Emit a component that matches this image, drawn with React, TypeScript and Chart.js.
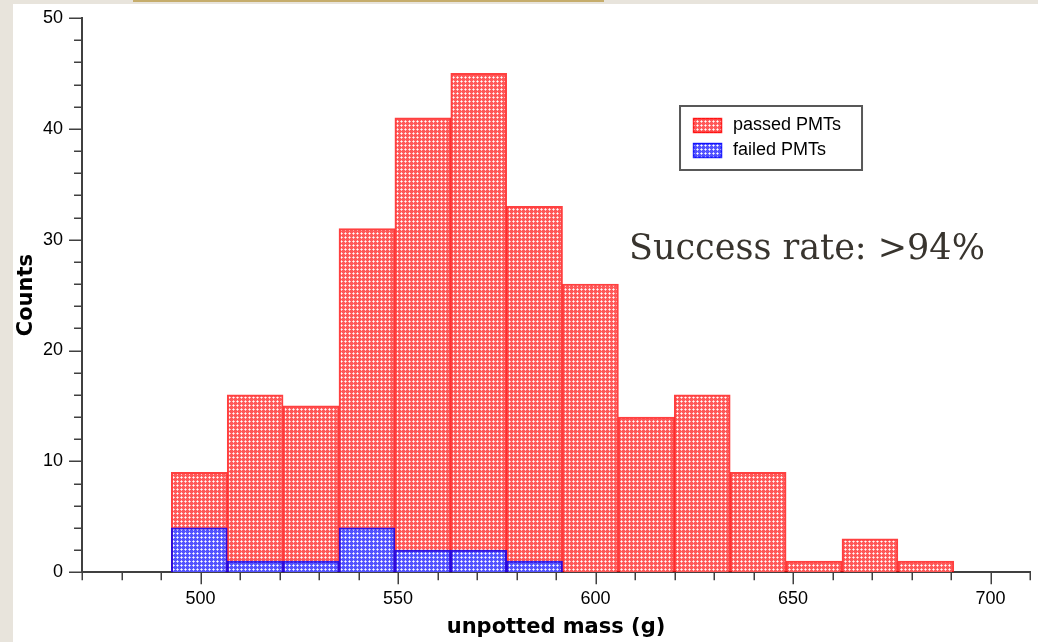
import React, { useEffect, useRef } from "react";
import { Chart, registerables } from "chart.js";

Chart.register(...registerables);

// ---- data ----
const binCenters = [499.68, 513.83, 527.98, 542.13, 556.28, 570.43, 584.58, 598.73, 612.88, 627.03, 641.18, 655.33, 669.48, 683.63];
const passedCounts = [9, 16, 15, 31, 41, 45, 33, 26, 14, 16, 9, 1, 3, 1];
const failedCounts = [4, 1, 1, 4, 2, 2, 1, 0, 0, 0, 0, 0, 0, 0];
const seriesNames = ["passed PMTs", "failed PMTs"];
const xMinorValues = [470, 480, 490, 510, 520, 530, 540, 560, 570, 580, 590, 610, 620, 630, 640, 660, 670, 680, 690, 710];
const xLabelValues = [500, 550, 600, 650, 700];
const yTickValues = [0, 10, 20, 30, 40, 50];
const yMinorValues = [2, 4, 6, 8, 12, 14, 16, 18, 22, 24, 26, 28, 32, 34, 36, 38, 42, 44, 46, 48];
const xTitle = "unpotted mass (g)";
const yTitle = "Counts";
const annotation = "Success rate: >94%";

const AXIS_COLOR = "#404040";

function makePattern(base: string, soft: string): CanvasPattern | string {
  const c = document.createElement("canvas");
  c.width = 4;
  c.height = 4;
  const g = c.getContext("2d");
  if (!g) return base;
  g.fillStyle = base;
  g.fillRect(0, 0, 4, 4);
  g.fillStyle = soft;
  g.fillRect(1, 0, 1, 3);
  g.fillRect(0, 1, 3, 1);
  g.fillStyle = "#ffffff";
  g.fillRect(1, 1, 1, 1);
  return g.createPattern(c, "repeat") || base;
}

export default function App() {
  const canvasRef = useRef<HTMLCanvasElement | null>(null);

  useEffect(() => {
    const canvas = canvasRef.current;
    if (!canvas) return;
    const redFill = makePattern("#ff5858", "#ffc4c4");
    const blueFill = makePattern("#5252ff", "#c4c4ff");

    const tickPlugin = {
      id: "minorTicks",
      afterDraw(chart: any) {
        const ctx = chart.ctx;
        const xs = chart.scales.x;
        const ys = chart.scales.y;
        const area = chart.chartArea;
        ctx.save();
        ctx.strokeStyle = AXIS_COLOR;
        ctx.lineWidth = 1.5;
        ctx.beginPath();
        xLabelValues.forEach((v) => {
          const px = Math.round(xs.getPixelForValue(v)) + 0.25;
          ctx.moveTo(px, area.bottom);
          ctx.lineTo(px, area.bottom + 12);
        });
        xMinorValues.forEach((v) => {
          const px = Math.round(xs.getPixelForValue(v)) + 0.25;
          ctx.moveTo(px, area.bottom);
          ctx.lineTo(px, area.bottom + 8);
        });
        yTickValues.forEach((v) => {
          const py = Math.round(ys.getPixelForValue(v)) + 0.25;
          ctx.moveTo(area.left, py);
          ctx.lineTo(area.left - 13, py);
        });
        yMinorValues.forEach((v) => {
          const py = Math.round(ys.getPixelForValue(v)) + 0.25;
          ctx.moveTo(area.left, py);
          ctx.lineTo(area.left - 8, py);
        });
        ctx.stroke();

        // legend
        const bx = area.left + 598;
        const by = area.top + 88;
        const bw = 182;
        const bh = 64;
        ctx.fillStyle = "#ffffff";
        ctx.fillRect(bx, by, bw, bh);
        ctx.strokeStyle = "#585858";
        ctx.lineWidth = 2;
        ctx.strokeRect(bx, by, bw, bh);
        const fills = [redFill, blueFill];
        const borders = ["rgba(255,0,0,0.8)", "rgba(0,0,255,0.8)"];
        seriesNames.forEach((name, i) => {
          const sy = by + 12 + i * 25;
          ctx.fillStyle = fills[i];
          ctx.fillRect(bx + 13, sy, 29, 15);
          ctx.strokeStyle = borders[i];
          ctx.lineWidth = 1.5;
          ctx.strokeRect(bx + 13.5, sy + 0.5, 28, 14);
          ctx.fillStyle = "#000000";
          ctx.font = '18px "Liberation Sans"';
          ctx.textBaseline = "middle";
          ctx.textAlign = "left";
          ctx.fillText(name, bx + 53, sy + 7.5);
        });
        ctx.restore();
      },
    };

    const chart = new Chart(canvas, {
      type: "bar",
      data: {
        datasets: [
          {
            label: seriesNames[0],
            data: binCenters.map((x, i) => ({ x, y: passedCounts[i] })),
            backgroundColor: redFill as any,
            borderColor: "rgba(255,0,0,0.75)",
            borderWidth: 2,
            grouped: false,
            order: 1,
            barPercentage: 1,
            categoryPercentage: 1,
          },
          {
            label: seriesNames[1],
            data: binCenters.map((x, i) => ({ x, y: failedCounts[i] })),
            backgroundColor: blueFill as any,
            borderColor: "rgba(0,0,255,0.8)",
            borderWidth: 2,
            grouped: false,
            order: 0,
            barPercentage: 1,
            categoryPercentage: 1,
          },
        ] as any,
      },
      options: {
        responsive: false,
        animation: false,
        layout: { padding: { left: 16, right: 8, top: 18, bottom: 2 } },
        plugins: {
          legend: { display: false },
          title: { display: false },
          tooltip: { enabled: false },
        },
        scales: {
          x: {
            type: "linear",
            min: 470,
            max: 710,
            offset: false,
            afterBuildTicks: (scale: any) => {
              scale.ticks = xLabelValues.map((v) => ({ value: v }));
            },
            grid: { display: false, drawTicks: true, tickLength: 12, offset: false },
            border: { display: true, color: AXIS_COLOR, width: 2 },
            ticks: {
              autoSkip: false,
              maxRotation: 0,
              padding: 4,
              color: "#000000",
              font: { family: "Liberation Sans", size: 18 },
            },
            title: {
              display: true,
              text: xTitle,
              color: "#000000",
              padding: { top: 1, bottom: 0 },
              font: { family: "DejaVu Sans", size: 21, weight: "bold" },
            },
          },
          y: {
            type: "linear",
            min: 0,
            max: 50,
            afterBuildTicks: (scale: any) => {
              scale.ticks = yTickValues.map((v) => ({ value: v }));
            },
            grid: { display: false, drawTicks: true, tickLength: 13 },
            border: { display: true, color: AXIS_COLOR, width: 2 },
            ticks: {
              padding: 6,
              color: "#000000",
              font: { family: "Liberation Sans", size: 18 },
            },
            title: {
              display: true,
              text: yTitle,
              color: "#000000",
              padding: { top: 0, bottom: 0 },
              font: { family: "DejaVu Sans", size: 21, weight: "bold", lineHeight: 1.0 },
            },
          },
        },
      } as any,
      plugins: [tickPlugin],
    });
    return () => chart.destroy();
  }, []);

  return (
    <div
      style={{
        position: "fixed",
        left: 0,
        top: 0,
        width: 1038,
        height: 642,
        background: "#e8e4dc",
        overflow: "hidden",
      }}
    >
      <div style={{ position: "absolute", left: 133, top: 0, width: 471, height: 2, background: "#c6ad6c" }} />
      <div style={{ position: "absolute", left: 13, top: 4, width: 1025, height: 638, background: "#ffffff" }} />
      <canvas
        ref={canvasRef}
        width={1038}
        height={642}
        style={{ position: "absolute", left: 0, top: 0, width: 1038, height: 642, display: "block" }}
      />
      <div
        style={{
          position: "absolute",
          left: 629,
          top: 230,
          fontFamily: '"DejaVu Serif", serif',
          fontSize: 35,
          lineHeight: 1,
          color: "#38342e",
          whiteSpace: "nowrap",
        }}
      >
        {annotation}
      </div>
    </div>
  );
}
